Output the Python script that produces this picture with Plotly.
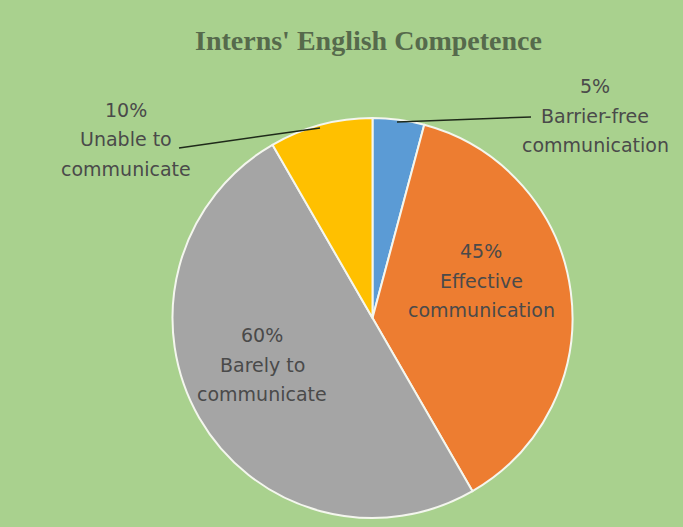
import plotly.graph_objects as go

# ---- data ----
categories = ["Barrier-free communication", "Effective communication",
              "Barely to communicate", "Unable to communicate"]
values = [5, 45, 60, 10]
label_lines = [["Barrier-free", "communication"],
               ["Effective", "communication"],
               ["Barely to", "communicate"],
               ["Unable to", "communicate"]]
colors = ["#5b9bd5", "#ed7d31", "#a5a5a5", "#ffc000"]

W, H = 683, 527
BG = "#a9d18e"

# label placement (pixel layout): centre x, first-line y
label_pos = [(595, 86), (481, 251), (262, 335), (126, 110)]
line_gap = 29.5

fig = go.Figure(go.Pie(
    labels=categories, values=values, sort=False, direction="clockwise",
    rotation=0, textinfo="none", hoverinfo="label+value",
    marker=dict(colors=colors, line=dict(color="#f4f6ee", width=2)),
    domain=dict(x=[172 / W, 573 / W], y=[1 - 518 / H, 1 - 118 / H]),
    showlegend=False,
))

annotations = []
for v, lines, (cx, y0) in zip(values, label_lines, label_pos):
    for i, t in enumerate([f"{v}%"] + lines):
        annotations.append(dict(
            text=t, x=cx / W, y=1 - (y0 + i * line_gap) / H,
            xref="paper", yref="paper", xanchor="center", yanchor="middle",
            showarrow=False,
            font=dict(family="DejaVu Sans", size=19, color="#4a4a4a")))

annotations.append(dict(
    text="<b>Interns' English Competence</b>", x=368 / W, y=1 - 41 / H,
    xref="paper", yref="paper", xanchor="center", yanchor="middle",
    showarrow=False,
    font=dict(family="Liberation Serif", size=28, color="#566a4c")))

shapes = [
    dict(type="line", xref="paper", yref="paper",
         x0=397 / W, y0=1 - 122 / H, x1=531 / W, y1=1 - 117 / H,
         line=dict(color="#1f2a1a", width=1.5)),
    dict(type="line", xref="paper", yref="paper",
         x0=320 / W, y0=1 - 128 / H, x1=179 / W, y1=1 - 148 / H,
         line=dict(color="#1f2a1a", width=1.5)),
]

fig.update_layout(
    width=W, height=H, margin=dict(l=0, r=0, t=0, b=0),
    paper_bgcolor=BG, plot_bgcolor=BG,
    annotations=annotations, shapes=shapes,
)

fig.write_html(
    "out.html",
    config=dict(displayModeBar=False),
    post_script=("document.body.style.margin='0';"
                 "document.body.style.padding='0';"
                 "document.body.style.overflow='hidden';"
                 f"document.body.style.background='{BG}';"),
)
